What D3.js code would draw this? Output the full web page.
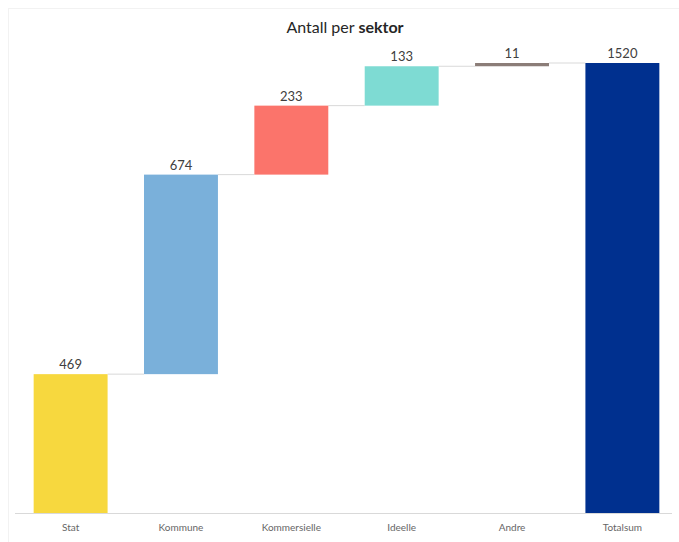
<!DOCTYPE html>
<html><head><meta charset="utf-8">
<script src="https://cdn.jsdelivr.net/npm/d3@7"></script>
<style>body{margin:0;background:#fff;}svg{display:block;font-family:Lato,"Open Sans",sans-serif;}</style>
</head><body><svg id="c" width="679" height="542"></svg>
<script>
const categories = ["Stat","Kommune","Kommersielle","Ideelle","Andre","Totalsum"];
const values = [469,674,233,133,11,1520];
const isTotal = [false,false,false,false,false,true];
const colors = ["#F7D83E","#7AB0DA","#FB746B","#7EDBD3","#8B7D78","#00308F"];

const svg = d3.select("#c");
const x = d3.scaleBand().domain(categories).range([16,677]).paddingInner(0.33).paddingOuter(0.16);
const y = d3.scaleLinear().domain([0,1520]).range([513,63]);

let cum=0;
const data = categories.map((c,i)=>{
  let start,end;
  if(isTotal[i]){start=0;end=values[i];}
  else{start=cum;end=cum+values[i];cum=end;}
  return {c,v:values[i],start,end,color:colors[i]};
});

// faint frame
svg.append("rect").attr("x",8.5).attr("y",8.5).attr("width",680).attr("height",540)
  .attr("fill","none").attr("stroke","#f2f2f2");

// connectors
svg.append("g").selectAll("line").data(data.slice(0,-1)).join("line")
  .attr("x1",(d)=>x(d.c)+x.bandwidth())
  .attr("x2",(d,i)=>x(categories[i+1]))
  .attr("y1",d=>y(d.end)).attr("y2",d=>y(d.end))
  .attr("stroke","#d9d9d9").attr("stroke-width",1);

svg.append("g").selectAll("rect").data(data).join("rect")
  .attr("x",d=>x(d.c)).attr("width",x.bandwidth())
  .attr("y",d=>y(Math.max(d.start,d.end)))
  .attr("height",d=>Math.max(1,Math.abs(y(d.start)-y(d.end))))
  .attr("fill",d=>d.color);

svg.append("g").selectAll("text").data(data).join("text")
  .attr("x",d=>x(d.c)+x.bandwidth()/2)
  .attr("y",d=>y(d.end)-5)
  .attr("text-anchor","middle").attr("font-size",13).attr("fill","#404040")
  .text(d=>d.v);

// axis
const ax = svg.append("g").attr("transform","translate(0,513)").call(d3.axisBottom(x).tickSize(0).tickPadding(11));
ax.select(".domain").attr("stroke","#d9d9d9").attr("d","M15,0.5H672");
ax.selectAll("text").attr("font-size",10).attr("fill","#666").attr("font-family","Lato,'Open Sans',sans-serif");

const t = svg.append("text").attr("x",345).attr("y",33).attr("text-anchor","middle")
  .attr("font-size",16).attr("fill","#262626");
t.append("tspan").text("Antall per ");
t.append("tspan").attr("font-weight","bold").text("sektor");
</script></body></html>
